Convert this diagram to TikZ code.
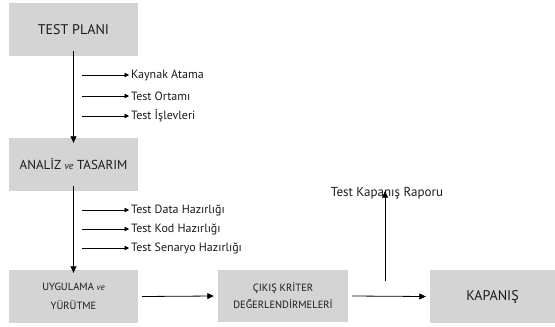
\documentclass[tikz,border=0pt]{standalone}
\usepackage{fontspec}
\setmainfont{PT Sans}
\usetikzlibrary{arrows.meta}
\definecolor{boxgrey}{HTML}{D4D4D4}
\definecolor{ink}{HTML}{1A1A1A}
\begin{document}
\begin{tikzpicture}[x=1pt,y=-1pt,
  stagebox/.style={fill=boxgrey,draw=none,minimum width=129pt,minimum height=53pt,inner sep=0pt,align=center,text=ink,font=\fontsize{14}{16}\selectfont},
  flow/.style={-{Triangle[length=6.5pt,width=6pt]},line width=0.8pt},
  sub/.style={-{Triangle[length=4.5pt,width=4.5pt]},line width=0.6pt,shorten >=2pt},
  lbl/.style={anchor=west,inner sep=0pt,text=ink,font=\fontsize{12}{14}\selectfont}]
\useasboundingbox (0,0) rectangle (555,327);
\node[stagebox] (plan) at (73.5,29.5) {TEST PLANI};
\node[stagebox,font=\fontsize{13}{15}\selectfont] (analiz) at (73.5,164.5) {ANALİZ {\fontsize{10}{12}\selectfont\itshape ve} TASARIM};
\node[stagebox,font=\fontsize{10.5}{19}\selectfont] (uyg) at (73.5,296.5) {UYGULAMA {\fontsize{9}{10}\selectfont\itshape ve}\\YÜRÜTME};
\node[stagebox,minimum width=130pt,minimum height=52pt,font=\fontsize{10.5}{17}\selectfont] (cikis) at (283,296) {ÇIKIŞ KRİTER\\DEĞERLENDİRMELERİ};
\node[stagebox,minimum width=125pt] (kapanis) at (492.5,296.5) {KAPANIŞ};
\node[lbl,anchor=center,font=\fontsize{13}{15}\selectfont] (rapor) at (387,193) {Test Kapanış Raporu};
% sub-items under plan
\coordinate (p1s) at (82,75); \node[lbl] (p1) at (131,75) {Kaynak Atama};
\coordinate (p2s) at (82,96); \node[lbl] (p2) at (131,96) {Test Ortamı};
\coordinate (p3s) at (82,116); \node[lbl] (p3) at (131,116) {Test İşlevleri};
\draw[sub] (p1s) -- (p1.west);
\draw[sub] (p2s) -- (p2.west);
\draw[sub] (p3s) -- (p3.west);
\coordinate (a1s) at (82,210); \node[lbl] (a1) at (131,210) {Test Data Hazırlığı};
\coordinate (a2s) at (82,229); \node[lbl] (a2) at (131,229) {Test Kod Hazırlığı};
\coordinate (a3s) at (82,248); \node[lbl] (a3) at (131,248) {Test Senaryo Hazırlığı};
\draw[sub] (a1s) -- (a1.west);
\draw[sub] (a2s) -- (a2.west);
\draw[sub] (a3s) -- (a3.west);
% main flow
\draw[flow] ([yshift=5pt]plan.south) -- ([yshift=-5pt]analiz.north);
\draw[flow] ([yshift=5pt]analiz.south) -- ([yshift=-3pt]uyg.north);
\draw[flow] ([xshift=4pt]uyg.east) -- ([xshift=-4pt]cikis.west);
\draw[flow] ([xshift=4pt]cikis.east) -- ([xshift=-4pt]kapanis.west);
\coordinate (rs) at (385,281);
\draw[flow] (rs) -- ([yshift=8pt]rapor.south -| rs);
\end{tikzpicture}
\end{document}
